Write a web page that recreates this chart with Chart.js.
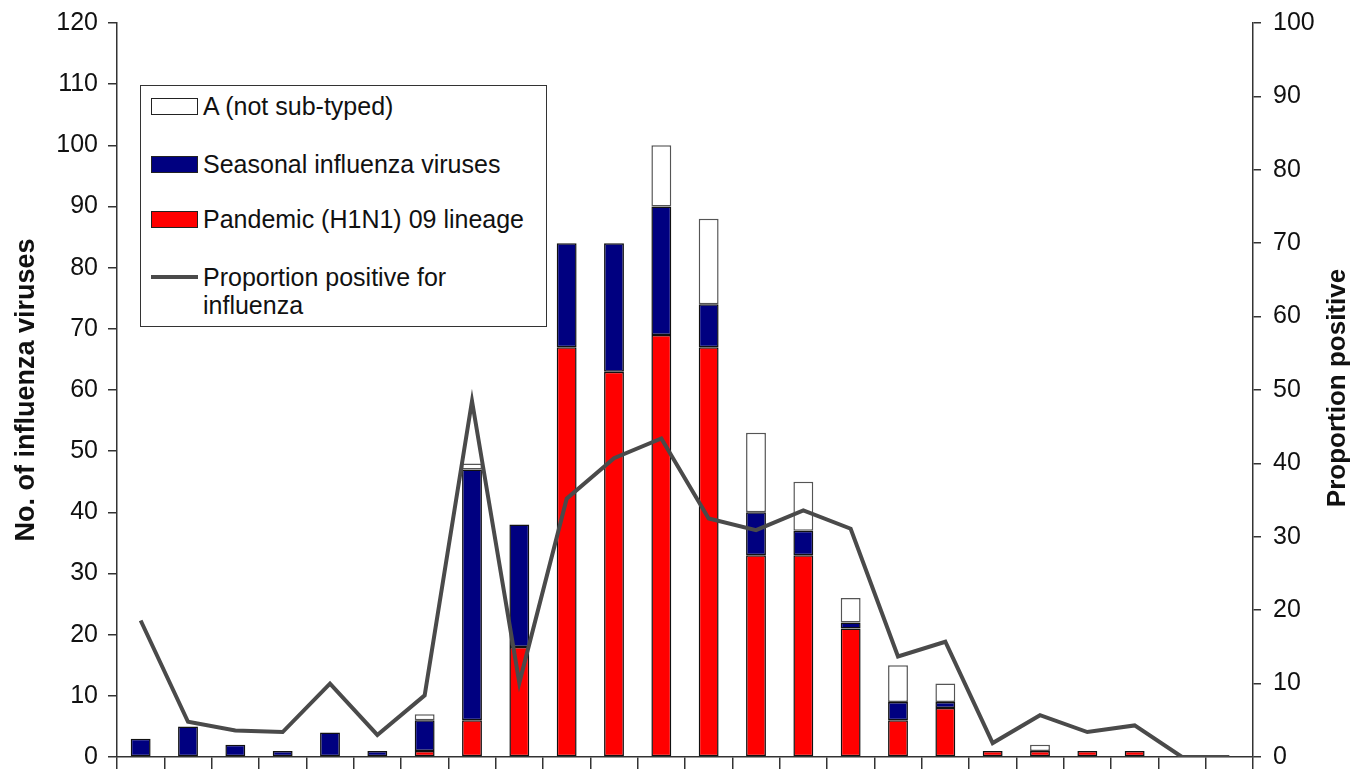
<!DOCTYPE html>
<html>
<head>
<meta charset="utf-8">
<script src="https://cdn.jsdelivr.net/npm/chart.js@4.4.1/dist/chart.umd.min.js"></script>
<style>
  body { margin:0; background:#fff; font-family:"Liberation Sans", Arial, sans-serif; }
  #wrap { position:relative; width:1357px; height:769px; }
  #legend { position:absolute; left:140px; top:85px; width:405px; height:240px; border:1.5px solid #333; background:#fff; color:#111; font-size:25px; }
  .item { position:absolute; left:10px; display:flex; align-items:center; line-height:28px; white-space:nowrap; }
  .sw { width:47px; height:17px; border:1.5px solid #222; box-sizing:border-box; margin-right:5px; flex:none; }
  .ln { width:47px; height:4px; margin-right:5px; flex:none; align-self:flex-start; margin-top:12px; }
</style>
</head>
<body>
<div id="wrap">
  <canvas id="fluChart" width="1357" height="769"></canvas>
  <div id="legend"></div>
</div>
<script>
// 24 weekly categories (labels are cut off in the source)
const weeks = ['1','2','3','4','5','6','7','8','9','10','11','12','13','14','15','16','17','18','19','20','21','22','23','24'];
const pandemic    = [0,0,0,0,0,0,1,6,18,67,63,69,67,33,33,21,6,8,1,1,1,1,0,0];
const seasonal    = [3,5,2,1,4,1,5,41,20,17,21,21,7,7,4,1,3,1,0,0,0,0,0,0];
const notSubtyped = [0,0,0,0,0,0,1,1,0,0,0,10,14,13,8,4,6,3,0,1,0,0,0,0];
const proportion  = [18.6,4.8,3.6,3.4,10.0,3.0,8.4,48.5,10.1,35.2,40.7,43.4,32.5,30.9,33.6,31.1,13.7,15.7,1.9,5.7,3.4,4.3,0,0];

const FONT = '"Liberation Sans", Arial, sans-serif';
const axisCol = '#333';
const edge = c => c.raw ? 1.5 : 0;

// fixed axis widths, and no label overhang so the plot runs 23..757
const fixY = w => s => { s.width = w; s.paddingTop = 0; s.paddingBottom = 0; };

// right axis title reads bottom-to-top like the left one
const rightTitle = {
  id:'rightTitle',
  afterDraw(ch) {
    const c = ch.ctx, s = ch.scales.y1;
    c.save();
    c.translate(1338, (s.top + s.bottom) / 2 - 2);
    c.rotate(-Math.PI / 2);
    c.font = 'bold 26px ' + FONT;
    c.fillStyle = '#111';
    c.textAlign = 'center';
    c.textBaseline = 'middle';
    c.fillText('Proportion positive', 0, 0);
    c.restore();
  }
};

const ctx = document.getElementById('fluChart').getContext('2d');
const chart = new Chart(ctx, {
  type: 'bar',
  data: {
    labels: weeks,
    datasets: [
      {label:'Pandemic (H1N1) 09 lineage', data:pandemic, backgroundColor:'#ff0000', borderColor:'#111', borderWidth:edge, borderSkipped:false, yAxisID:'y', order:1},
      {label:'Seasonal influenza viruses', data:seasonal, backgroundColor:'#000080', borderColor:'#111', borderWidth:edge, borderSkipped:false, yAxisID:'y', order:1},
      {label:'A (not sub-typed)', data:notSubtyped, backgroundColor:'#ffffff', borderColor:'#555', borderWidth:edge, borderSkipped:false, yAxisID:'y', order:1},
      {type:'line', label:'Proportion positive for influenza', data:proportion, borderColor:'#4a4a4a', borderWidth:4, pointRadius:0, tension:0, fill:false, yAxisID:'y1', order:0}
    ]
  },
  options: {
    responsive:false,
    animation:false,
    layout:{autoPadding:false, padding:{top:23, bottom:0, left:0, right:0}},
    datasets:{bar:{categoryPercentage:1, barPercentage:0.42}},
    plugins:{legend:{display:false}, tooltip:{enabled:false}},
    scales:{
      x:{
        stacked:true,
        ticks:{display:false},
        grid:{drawOnChartArea:false, drawTicks:true, tickLength:12, color:axisCol, lineWidth:1.5, offset:true},
        border:{color:axisCol, width:1.5},
        afterFit: s => { s.height = 12; }
      },
      y:{
        position:'left', stacked:true, min:0, max:120,
        ticks:{stepSize:10, color:'#111', font:{family:FONT, size:25}, padding:10},
        grid:{drawOnChartArea:false, tickLength:9, color:axisCol, lineWidth:1.5},
        border:{color:axisCol, width:1.5},
        title:{display:true, text:'No. of influenza viruses', color:'#111', font:{family:FONT, size:27, weight:'bold'}, padding:{top:10, bottom:0}},
        afterFit: fixY(117)
      },
      y1:{
        position:'right', min:0, max:100,
        ticks:{stepSize:10, color:'#111', font:{family:FONT, size:25}, padding:12},
        grid:{drawOnChartArea:false, tickLength:8, color:axisCol, lineWidth:1.5},
        border:{color:axisCol, width:1.5},
        afterFit: fixY(104)
      }
    }
  },
  plugins:[rightTitle]
});

// legend box, built from the dataset styles
const legendRows = [
  {ds:2, top:6},
  {ds:1, top:64},
  {ds:0, top:119},
  {ds:3, top:177, text:'Proportion positive for<br>influenza'}
];
const legendEl = document.getElementById('legend');
legendRows.forEach(r => {
  const d = chart.data.datasets[r.ds];
  const item = document.createElement('div');
  item.className = 'item';
  item.style.top = r.top + 'px';
  const mark = document.createElement('span');
  if (d.type === 'line') {
    mark.className = 'ln';
    mark.style.background = d.borderColor;
  } else {
    mark.className = 'sw';
    mark.style.background = d.backgroundColor;
  }
  const txt = document.createElement('span');
  txt.innerHTML = r.text || d.label;
  item.appendChild(mark);
  item.appendChild(txt);
  legendEl.appendChild(item);
});
</script>
</body>
</html>
